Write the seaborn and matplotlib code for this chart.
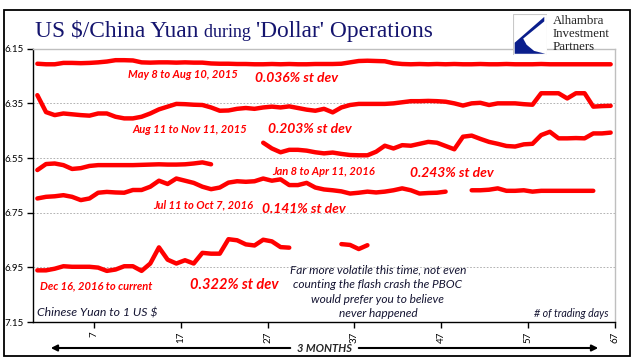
import numpy as np
import pandas as pd
import matplotlib
matplotlib.use('Agg')
import matplotlib.pyplot as plt
import seaborn as sns
from matplotlib.patches import Rectangle, Polygon

# dias de operacion (1..67)
dias = list(range(1, 68))

may_ago_2015 = [6.205, 6.207, 6.207, 6.202, 6.202, 6.203, 6.202, 6.200, 6.197, 6.192,
                6.192, 6.193, 6.200, 6.201, 6.200, 6.200, 6.201, 6.200, 6.201, 6.201,
                6.204, 6.205, 6.205, 6.206, 6.206, 6.207, 6.207, 6.206, 6.207, 6.206,
                6.207, 6.207, 6.206, 6.206, 6.206, 6.205, 6.200, 6.195, 6.194, 6.195,
                6.196, 6.203, 6.206, 6.207, 6.206, 6.207, 6.206, 6.207, 6.206, 6.207,
                6.207, 6.206, 6.207, 6.207, 6.206, 6.207, 6.207, 6.207, 6.206, 6.207,
                6.207, 6.207, 6.207, 6.207, 6.207, 6.207, 6.207]

ago_nov_2015 = [6.320, 6.382, 6.393, 6.387, 6.390, 6.393, 6.395, 6.387, 6.387, 6.399,
                6.405, 6.405, 6.399, 6.387, 6.372, 6.362, 6.352, 6.353, 6.355, 6.356,
                6.365, 6.377, 6.376, 6.370, 6.367, 6.370, 6.365, 6.362, 6.365, 6.361,
                6.367, 6.373, 6.377, 6.370, 6.383, 6.365, 6.356, 6.352, 6.352, 6.352,
                6.352, 6.350, 6.346, 6.342, 6.342, 6.341, 6.342, 6.344, 6.350, 6.358,
                6.350, 6.348, 6.356, 6.350, 6.350, 6.350, 6.353, 6.355, 6.313, 6.313,
                6.313, 6.332, 6.313, 6.313, 6.362, 6.360, 6.359]

ene_abr_2016 = [6.594, 6.572, 6.570, 6.576, 6.590, 6.587, 6.579, 6.576, 6.576, 6.576,
                6.576, 6.576, 6.575, 6.574, 6.573, 6.574, 6.574, 6.573, 6.570, 6.566,
                6.573, None, None, None, None, None, 6.494, 6.515, 6.529, 6.520,
                6.520, 6.523, 6.529, 6.533, 6.530, 6.535, 6.539, 6.540, 6.540, 6.527,
                6.505, 6.515, 6.503, 6.505, 6.498, 6.491, 6.494, 6.506, 6.518, 6.472,
                6.468, 6.480, 6.491, 6.498, 6.506, 6.508, 6.500, 6.498, 6.466, 6.454,
                6.478, 6.478, 6.477, 6.478, 6.460, 6.460, 6.457]

jul_oct_2016 = [6.698, 6.692, 6.690, 6.686, 6.692, 6.704, 6.698, 6.677, 6.674, 6.676,
                6.677, 6.667, 6.667, 6.655, 6.633, 6.645, 6.625, 6.633, 6.641, 6.655,
                6.664, 6.658, 6.640, 6.635, 6.637, 6.635, 6.625, 6.633, 6.628, 6.649,
                6.649, 6.641, 6.658, 6.665, 6.668, 6.672, 6.680, 6.677, 6.673, 6.676,
                6.673, 6.668, 6.661, 6.668, 6.680, 6.678, 6.677, 6.673, None, None,
                6.668, 6.668, 6.666, 6.661, 6.670, 6.670, 6.668, 6.673, 6.670, 6.670,
                6.670, 6.670, 6.670, 6.670, 6.670, None, None]

dic_2016_actual = [6.961, 6.961, 6.955, 6.946, 6.948, 6.948, 6.948, 6.951, 6.963, 6.958,
                   6.946, 6.946, 6.963, 6.936, 6.877, 6.922, 6.936, 6.924, 6.936, 6.897,
                   6.900, 6.900, 6.847, 6.851, 6.866, 6.870, 6.849, 6.855, 6.876, 6.878,
                   None, None, None, None, None, 6.865, 6.868, 6.883, 6.869] + [None] * 28

ticks_x = [7, 17, 27, 37, 47, 57, 67]
ticks_y = [6.15, 6.35, 6.55, 6.75, 6.95, 7.15]
etiquetas_y = ['6.15', '6.35', '6.55', '6.75', '6.95', '7.15']


def armarTramos(nombre, valores):
    # cada tramo continuo es una linea aparte (los None son huecos)
    filas = []
    tramo = 0
    anterior = None
    for d, v in zip(dias, valores):
        if v is None:
            anterior = None
            continue
        if anterior is None:
            tramo += 1
        filas.append({'dia': d - 0.5, 'yuan': v, 'tramo': nombre + str(tramo)})
        anterior = v
    return filas


filas = []
filas += armarTramos('a', may_ago_2015)
filas += armarTramos('b', ago_nov_2015)
filas += armarTramos('c', ene_abr_2016)
filas += armarTramos('d', jul_oct_2016)
filas += armarTramos('e', dic_2016_actual)
df = pd.DataFrame(filas)

sns.set_style('white')
plt.rcParams['font.family'] = ['Lato', 'DejaVu Sans']

W, H = 641, 361
fig = plt.figure(figsize=(W / 100, H / 100), dpi=100)
ax = fig.add_axes([33 / W, 1 - 322 / H, 582 / W, 273.3 / H])

sns.lineplot(data=df, x='dia', y='yuan', units='tramo', estimator=None, sort=False,
             color='#FF0000', linewidth=3.2, ax=ax, legend=False,
             solid_capstyle='round', solid_joinstyle='round')

ax.set_xlim(0, 67)
ax.set_ylim(7.15, 6.15)
ax.set_xticks(ticks_x)
ax.set_xticklabels([str(t) for t in ticks_x], rotation=90)
ax.set_yticks(ticks_y)
ax.set_yticklabels(etiquetas_y)
ax.set_xlabel('')
ax.set_ylabel('')
ax.tick_params(axis='both', direction='out', length=4, width=1, labelsize=7,
               colors='black', pad=3, left=True, bottom=True)
ax.yaxis.grid(True, color='#A6A6A6', linestyle=(0, (2, 2)), linewidth=0.6)
for lado in ['left', 'bottom']:
    ax.spines[lado].set_color('black')
    ax.spines[lado].set_linewidth(1.0)
for lado in ['top', 'right']:
    ax.spines[lado].set_color('#BFBFBF')
    ax.spines[lado].set_linewidth(1.0)

rojo = dict(color='#FF0000', style='italic', weight='bold', va='center')
ax.text(10.9, 6.246, 'May 8 to Aug 10, 2015', fontsize=8, **rojo)
ax.text(25.6, 6.256, '0.036% st dev', fontsize=10, **rojo)
ax.text(11.4, 6.444, 'Aug 11 to Nov 11, 2015', fontsize=8, **rojo)
ax.text(27.1, 6.444, '0.203% st dev', fontsize=10, **rojo)
ax.text(27.5, 6.600, 'Jan 8 to Apr 11, 2016', fontsize=8, **rojo)
ax.text(43.4, 6.604, '0.243% st dev', fontsize=10, **rojo)
ax.text(13.8, 6.722, 'Jul 11 to Oct 7, 2016', fontsize=8, **rojo)
ax.text(26.4, 6.738, '0.141% st dev', fontsize=10, **rojo)
ax.text(0.8, 7.016, 'Dec 16, 2016 to current', fontsize=8, **rojo)
ax.text(18.1, 7.016, '0.322% st dev', fontsize=10.5, **rojo)

oscuro = '#141432'
ax.text(0.45, 7.118, 'Chinese Yuan to 1 US $', fontsize=8.8, style='italic',
        color=oscuro, va='center')
ax.text(39.7, 7.040, 'Far more volatile this time, not even\ncounting the flash crash the PBOC\n'
        'would prefer you to believe\nnever happened', fontsize=8.6, style='italic',
        color=oscuro, ha='center', va='center', linespacing=1.38)
ax.text(66.3, 7.118, '# of trading days', fontsize=7.7, style='italic', color=oscuro,
        ha='right', va='center')

# titulo con "during" mas chico
navy = '#14146E'
r = fig.canvas.get_renderer()
x0 = 35 / W
y0 = 1 - 37 / H
partes = [('US $/China Yuan ', 16.8), ('during ', 13), ("'Dollar' Operations", 16.8)]
for txt, tam in partes:
    t = fig.text(x0, y0, txt, fontsize=tam, color=navy, family='Liberation Serif',
                 va='baseline')
    x0 += t.get_window_extent(renderer=r).width / W

# logo
lax = fig.add_axes([513 / W, 1 - 55 / H, 34 / W, 41 / H])
lax.set_xlim(0, 1)
lax.set_ylim(0, 1)
lax.axis('off')
lax.add_patch(Rectangle((0, 0), 1, 1, facecolor='white', edgecolor='#C8C8C8', lw=0.8))
lax.add_patch(Polygon([(0.92, 0.93), (0.05, 0.30), (0.05, 0.03), (0.95, 0.03),
                       (0.62, 0.10), (0.40, 0.25), (0.30, 0.40), (0.92, 0.82)],
                      closed=True, facecolor='#0A1E8C', edgecolor='none'))
for i, palabra in enumerate(['Alhambra', 'Investment', 'Partners']):
    fig.text(553 / W, 1 - (21 + 13 * i) / H, palabra, fontsize=9.3, color='#222222',
             family='Liberation Serif', va='center')

# flecha de 3 meses
yf = 1 - 348 / H
fig.text(325 / W, yf, '3 MONTHS', fontsize=8, weight='bold', style='italic',
         ha='center', va='center')
ax.annotate('', xy=(48 / W, yf), xytext=(293 / W, yf), xycoords='figure fraction',
            arrowprops=dict(arrowstyle='-|>', lw=1.5, color='black', mutation_scale=9))
ax.annotate('', xy=(601 / W, yf), xytext=(356 / W, yf), xycoords='figure fraction',
            arrowprops=dict(arrowstyle='-|>', lw=1.5, color='black', mutation_scale=9))

fig.add_artist(Rectangle((4 / W, 1 - 356 / H), 626 / W, 346 / H, transform=fig.transFigure,
                         fill=False, lw=1.3, edgecolor='black'))

fig.savefig('out.png', dpi=100)
